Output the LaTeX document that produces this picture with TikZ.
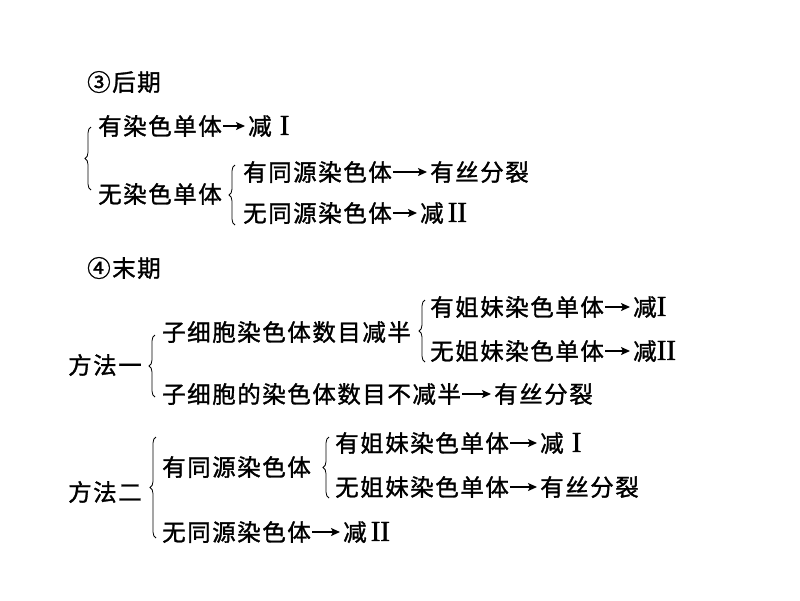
\documentclass[tikz,border=0pt]{standalone}
\usepackage{fontspec}
\newfontfamily\cjk[LetterSpace=6.5,FakeBold=1.3]{Noto Sans CJK SC}
\newfontfamily\rom[FakeBold=1.2]{Liberation Serif}
\newcommand{\RI}{{\rom\fontsize{29}{29}\selectfont I}}
\newcommand{\RII}{{\rom\fontsize{29}{29}\selectfont II}}
\usetikzlibrary{decorations.pathreplacing,arrows.meta}
\begin{document}
\begin{tikzpicture}[x=1pt,y=-1pt,
  txt/.style={inner sep=0pt, anchor=west, font=\fontsize{23.5}{23.5}\selectfont\cjk, text height=17.9pt, text depth=0pt},
  arr/.style={line width=1.5pt, -{Stealth[length=9pt,width=8pt,inset=2pt]}, shorten <=1pt, shorten >=3pt},
  brc/.style={decorate, decoration={brace, amplitude=6pt}, line width=0.8pt}]
\useasboundingbox[fill=white] (0,0) rectangle (800,600);

% ③ 后期
\node[txt] (h3) at (87,82) {③后期};
\node[txt] (a1) at (98,126) {有染色单体};
\node[txt] (a1x) at (248,126) {减\hspace{8pt}\RI};
\node[txt] (a2) at (98,194) {无染色单体};
\node[txt] (b1) at (243,172) {有同源染色体};
\node[txt] (b1x) at (430,172) {有丝分裂};
\node[txt] (b2) at (243,213) {无同源染色体};
\node[txt] (b2x) at (420,213) {减\hspace{4pt}\RII};
\draw[arr] (a1) -- (a1x);
\draw[arr] (b1) -- (b1x);
\draw[arr] (b2) -- (b2x);
\coordinate (B1t) at (91,127); \coordinate (B1b) at (91,190);
\coordinate (B2t) at (235,165); \coordinate (B2b) at (235,225);
\draw[brc] (B1b) -- (B1t);
\draw[brc] (B2b) -- (B2t);

% ④ 末期
\node[txt] (h4) at (87,268) {④末期};
\node[txt] (m1) at (68,365) {方法一};
\node[txt] (c1) at (162,332) {子细胞染色体数目减半};
\node[txt] (d1) at (430,307) {有姐妹染色单体};
\node[txt] (d1x) at (633,307) {减\RI};
\node[txt] (d2) at (430,351) {无姐妹染色单体};
\node[txt] (d2x) at (633,351) {减\RII};
\node[txt] (c2) at (162,394) {子细胞的染色体数目不减半};
\node[txt] (c2x) at (494,394) {有丝分裂};
\draw[arr] (d1) -- (d1x);
\draw[arr] (d2) -- (d2x);
\draw[arr] (c2) -- (c2x);
\coordinate (B3t) at (155,335); \coordinate (B3b) at (155,397);
\coordinate (B4t) at (425,300); \coordinate (B4b) at (425,362);
\draw[brc] (B3b) -- (B3t);
\draw[brc] (B4b) -- (B4t);

% 方法二
\node[txt] (m2) at (68,492) {方法二};
\node[txt] (e1) at (162,467) {有同源染色体};
\node[txt] (f1) at (335,443) {有姐妹染色单体};
\node[txt] (f1x) at (540,443) {减\hspace{8pt}\RI};
\node[txt] (f2) at (335,487) {无姐妹染色单体};
\node[txt] (f2x) at (540,487) {有丝分裂};
\node[txt] (e2) at (162,532) {无同源染色体};
\node[txt] (e2x) at (343,532) {减\hspace{4pt}\RII};
\draw[arr] (f1) -- (f1x);
\draw[arr] (f2) -- (f2x);
\draw[arr] (e2) -- (e2x);
\coordinate (B5t) at (156,437); \coordinate (B5b) at (156,538);
\coordinate (B6t) at (329,437); \coordinate (B6b) at (329,498);
\draw[brc] (B5b) -- (B5t);
\draw[brc] (B6b) -- (B6t);
\end{tikzpicture}
\end{document}
